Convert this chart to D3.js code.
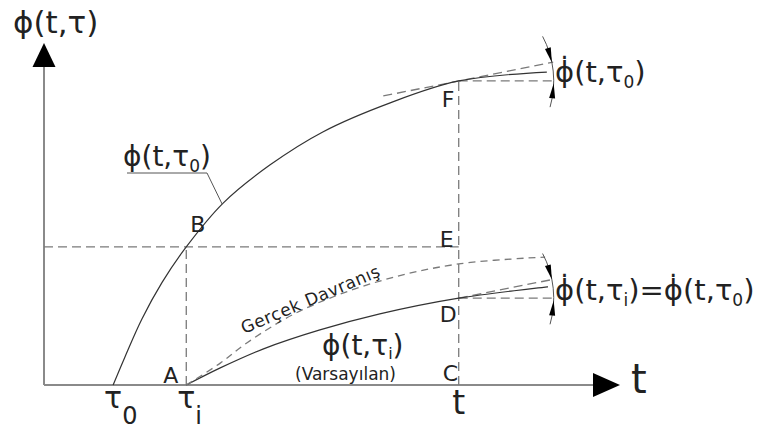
<!DOCTYPE html>
<html>
<head>
<meta charset="utf-8">
<script src="https://cdn.jsdelivr.net/npm/d3@7"></script>
<style>
  html, body { margin: 0; padding: 0; background: #fff; }
  svg { display: block; font-family: "DejaVu Sans", Verdana, sans-serif; }
</style>
</head>
<body>
<svg id="chart" width="762" height="429"></svg>
<script>
// Creep coefficient curves φ(t,τ) – time axis and value axis in arbitrary units
const tTicks     = [1.20, 2.47, 7.20];        // τ0, τi, t
const tTickBase  = ["τ", "τ", "t"];
const tTickSub   = ["0", "i", ""];

// φ(t,τ0): loading at τ0
const phi0T = [1.20, 1.40, 1.70, 2.05, 2.47, 3.11, 3.92, 4.84, 6.01, 7.20, 8.73];
const phi0V = [0.00, 0.80, 1.93, 3.00, 4.04, 5.32, 6.43, 7.40, 8.25, 8.89, 9.15];

// φ(t,τi): assumed behaviour (Varsayılan)
const phiIT = [2.47, 3.06, 3.80, 4.79, 5.83, 7.20, 8.75];
const phiIV = [0.00, 0.50, 1.05, 1.61, 2.08, 2.54, 2.87];

// Real behaviour (Gerçek Davranış)
const realT = [2.47, 3.06, 3.52, 4.44, 5.83, 7.20, 8.70];
const realV = [0.00, 0.64, 1.23, 2.16, 3.04, 3.54, 3.74];

// Named points
const ptName = ["A", "B", "C", "D", "E", "F"];
const ptT    = [2.47, 2.47, 7.20, 7.20, 7.20, 7.20];
const ptV    = [0.00, 4.04, 0.00, 2.54, 4.04, 8.89];

// Tangent slope at F and D (equal rates)
const tangentSlope = 0.335;
const tangentEnd = 8.84;
const upperTangentStart = 5.89;

const svg = d3.select("#chart");
const x = d3.scaleLinear().domain([0, 10]).range([44, 620]);
const y = d3.scaleLinear().domain([0, 10]).range([385, 43]);

const ink = "#222";
const curveInk = "#333";
const dashInk = "#7a7a7a";
const axisInk = "#8a8a8a";

// ---- axes ----
svg.append("line").attr("x1", x(0)).attr("y1", y(0)).attr("x2", x(0)).attr("y2", y(10) + 20)
  .attr("stroke", axisInk).attr("stroke-width", 2);
svg.append("line").attr("x1", x(0)).attr("y1", y(0)).attr("x2", x(10) - 25).attr("y2", y(0))
  .attr("stroke", axisInk).attr("stroke-width", 2);
// arrow heads
svg.append("path")
  .attr("d", `M${x(0)},${y(10)} L${x(0) - 11.5},${y(10) + 24} L${x(0) + 11.5},${y(10) + 24} Z`)
  .attr("fill", "#000");
svg.append("path")
  .attr("d", `M${x(10)},${y(0)} L${x(10) - 27},${y(0) - 12} L${x(10) - 27},${y(0) + 12} Z`)
  .attr("fill", "#000");

// ---- helper for mathematical labels with subscripts ----
function mathLabel(px, py, size, parts, opts = {}) {
  const t = svg.append("text").attr("x", px).attr("y", py)
    .style("font-size", size + "px").attr("fill", ink)
    .attr("text-anchor", opts.anchor || "start");
  let inSub = false;
  const subSize = opts.subSize || size * 0.6;
  const subDy = opts.subDy || size * 0.25;
  parts.forEach(p => {
    const isSub = p.sub === true;
    const ts = t.append("tspan").text(p.s);
    if (isSub && !inSub) ts.attr("dy", subDy).style("font-size", subSize + "px");
    else if (isSub) ts.style("font-size", subSize + "px");
    else if (!isSub && inSub) ts.attr("dy", -subDy);
    inSub = isSub;
  });
  return t;
}

// axis titles
mathLabel(13, 33, 31, [{s: "ϕ(t,τ)"}]);
svg.append("text").attr("x", 631).attr("y", 393).style("font-size", "40px").attr("fill", ink).text("t");

// tick labels
tTicks.forEach((v, i) => {
  const parts = [{s: tTickBase[i]}];
  if (tTickSub[i]) parts.push({s: tTickSub[i], sub: true});
  const isT = tTickBase[i] === "t";
  const lbl = mathLabel(x(v), isT ? 414 : 408, isT ? 33 : 30, parts, {subSize: 24, subDy: 16});
  // centre the base glyph on the tick position
  const w = lbl.select("tspan").node().getComputedTextLength();
  lbl.attr("x", x(v) - w / 2);
});

// ---- dashed guide lines ----
const guide = (x1, y1, x2, y2) => svg.append("line")
  .attr("x1", x1).attr("y1", y1).attr("x2", x2).attr("y2", y2)
  .attr("stroke", dashInk).attr("stroke-width", 1.3).attr("stroke-dasharray", "9,5");

guide(x(0), y(ptV[1]), x(ptT[4]), y(ptV[4]));            // B–E horizontal
guide(x(ptT[0]), y(0), x(ptT[1]), y(ptV[1]));            // A–B vertical
guide(x(ptT[2]), y(0), x(ptT[5]), y(ptV[5]));            // C–F vertical
guide(x(ptT[5]), y(ptV[5]), x(tangentEnd), y(ptV[5]));   // F horizontal
guide(x(ptT[3]), y(ptV[3]), x(tangentEnd), y(ptV[3]));   // D horizontal
// tangents
guide(x(upperTangentStart), y(ptV[5] - tangentSlope * (ptT[5] - upperTangentStart)),
      x(tangentEnd), y(ptV[5] + tangentSlope * (tangentEnd - ptT[5])));
guide(x(ptT[3]), y(ptV[3]), x(tangentEnd), y(ptV[3] + tangentSlope * (tangentEnd - ptT[3])));

// ---- curves ----
const line = d3.line().x(d => x(d[0])).y(d => y(d[1])).curve(d3.curveCatmullRom.alpha(0.5));
svg.append("path").attr("d", line(d3.zip(phi0T, phi0V)))
  .attr("fill", "none").attr("stroke", curveInk).attr("stroke-width", 1.2);
svg.append("path").attr("d", line(d3.zip(phiIT, phiIV)))
  .attr("fill", "none").attr("stroke", curveInk).attr("stroke-width", 1.2);
svg.append("path").attr("d", line(d3.zip(realT, realV)))
  .attr("fill", "none").attr("stroke", dashInk).attr("stroke-width", 1.3).attr("stroke-dasharray", "7,5");

// ---- angle dimension arcs at F and D ----
function angleMark(cT, cV) {
  const cx = x(cT), cy = y(cV), r = 95;
  const rad = a => a * Math.PI / 180;
  const pt = a => [cx + r * Math.cos(rad(a)), cy + r * Math.sin(rad(a))];
  const a0 = -28, a1 = 16;
  const p0 = pt(a0), p1 = pt(a1);
  svg.append("path").attr("d", `M${p0[0]},${p0[1]} A${r},${r} 0 0 1 ${p1[0]},${p1[1]}`)
    .attr("fill", "none").attr("stroke", "#555").attr("stroke-width", 1);
  // screen angle of the tangent line
  const pxSlope = (y(cV + tangentSlope) - y(cV)) / (x(cT + 1) - x(cT));
  const slopeAng = Math.atan(pxSlope) * 180 / Math.PI;
  const arrow = (tipA, baseA) => {
    const tip = pt(tipA), base = pt(baseA);
    const dx = tip[0] - base[0], dy = tip[1] - base[1];
    const L = Math.hypot(dx, dy), nx = -dy / L * 3, ny = dx / L * 3;
    svg.append("path")
      .attr("d", `M${tip[0]},${tip[1]} L${base[0] + nx},${base[1] + ny} L${base[0] - nx},${base[1] - ny} Z`)
      .attr("fill", "#000");
  };
  arrow(slopeAng, slopeAng - 9);
  arrow(1.5, 10.5);
}
angleMark(ptT[5], ptV[5]);
angleMark(ptT[3], ptV[3]);

// ---- point letters ----
const ptOffset = {A: [-23, -2], B: [4, -15], C: [-16, -4], D: [-19, 24], E: [-19, 0], F: [-17, 26]};
ptName.forEach((n, i) => {
  svg.append("text").attr("x", x(ptT[i]) + ptOffset[n][0]).attr("y", y(ptV[i]) + ptOffset[n][1])
    .style("font-size", "22px").attr("fill", ink).text(n);
});

// ---- curve labels ----
// φ(t,τ0) with leader
mathLabel(123, 166, 28, [{s: "ϕ(t,τ"}, {s: "0", sub: true}, {s: ")"}], {subSize: 17, subDy: 6});
svg.append("path").attr("d", `M127,173 L207,173 L${x(3.11) - 1},${y(5.32) + 1}`)
  .attr("fill", "none").attr("stroke", "#555").attr("stroke-width", 1);

// φ(t,τi) (Varsayılan)
mathLabel(322, 355, 28, [{s: "ϕ(t,τ"}, {s: "i", sub: true}, {s: ")"}], {subSize: 16, subDy: 4});
svg.append("text").attr("x", 295).attr("y", 380).style("font-size", "17px").attr("fill", ink).text("(Varsayılan)");

// Gerçek Davranış along the dashed curve
svg.append("text").attr("transform", "translate(244,334) rotate(-23)")
  .style("font-size", "17px").style("letter-spacing", "0.6px").attr("fill", ink).text("Gerçek Davranış");

// rate labels
mathLabel(555, 82, 29, [{s: "ϕ\u0307(t,τ"}, {s: "0", sub: true}, {s: ")"}], {subSize: 17, subDy: 6});
mathLabel(555, 300, 29, [{s: "ϕ\u0307(t,τ"}, {s: "i", sub: true}, {s: ")=ϕ\u0307(t,τ"}, {s: "0", sub: true}, {s: ")"}],
  {subSize: 17, subDy: 6});
</script>
</body>
</html>
